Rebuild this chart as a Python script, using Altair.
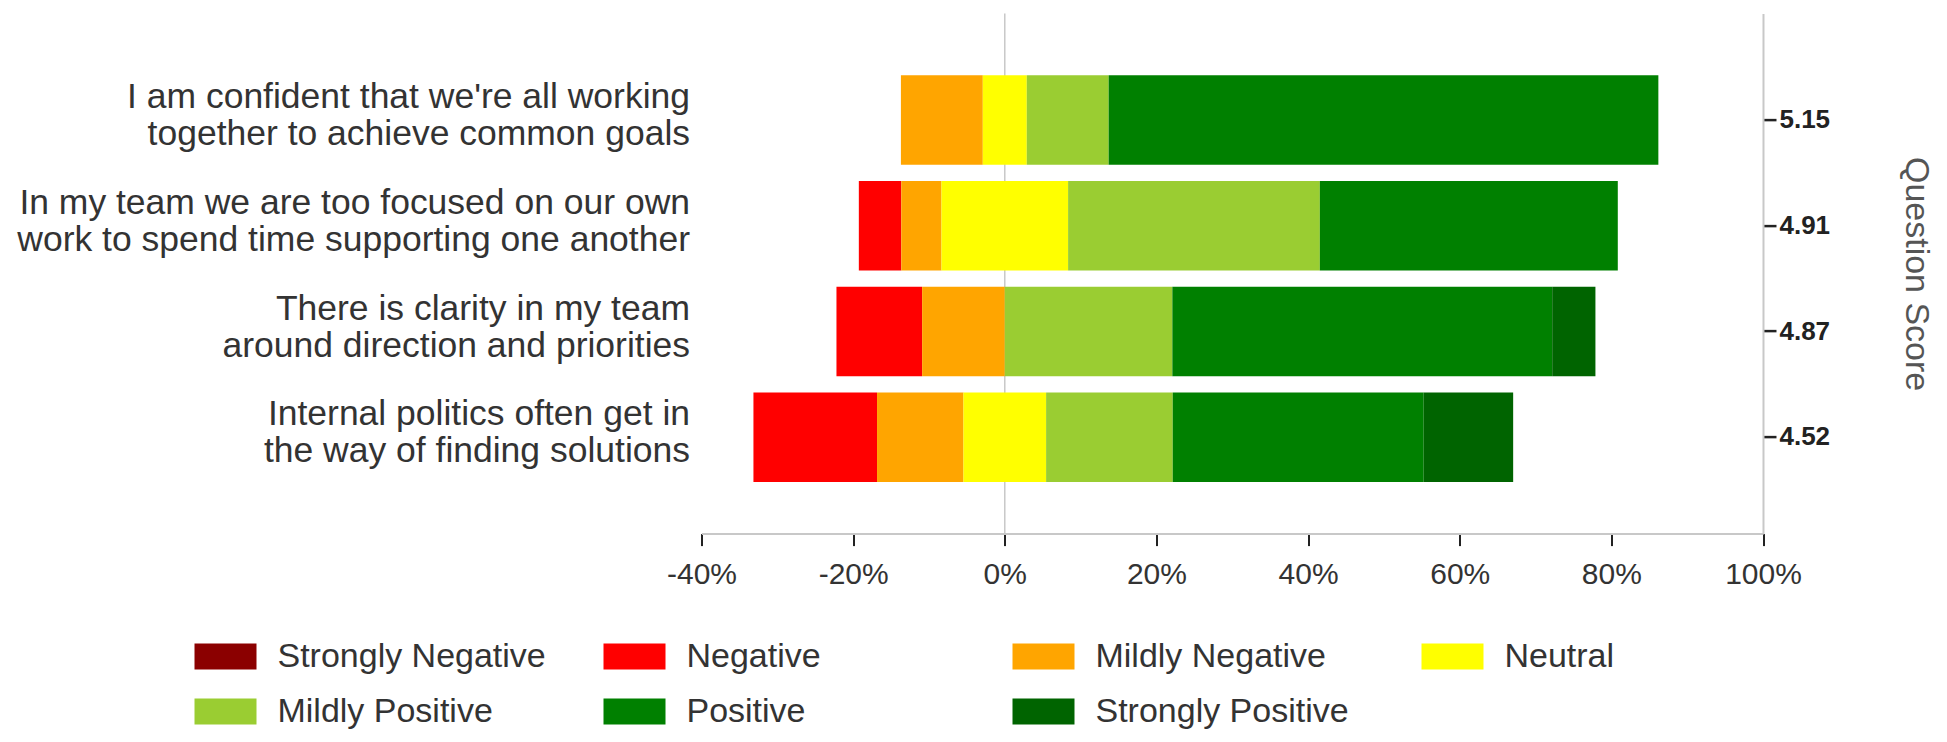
import altair as alt
import pandas as pd

# ---- data ----
questions = [
    ["I am confident that we're all working", "together to achieve common goals"],
    ["In my team we are too focused on our own", "work to spend time supporting one another"],
    ["There is clarity in my team", "around direction and priorities"],
    ["Internal politics often get in", "the way of finding solutions"],
]
scores = ["5.15", "4.91", "4.87", "4.52"]

categories = ["Strongly Negative", "Negative", "Mildly Negative", "Neutral",
              "Mildly Positive", "Positive", "Strongly Positive"]
colors = ["#8B0000", "#FF0000", "#FFA500", "#FFFF00",
          "#9ACD32", "#008000", "#006400"]

strongly_negative = [0.0, 0.0, 0.0, 0.0]
negative = [0.0, 5.6, 11.3, 16.3]
mildly_negative = [10.8, 5.3, 10.9, 11.4]
neutral = [5.8, 16.7, 0.0, 10.9]
mildly_positive = [10.8, 33.2, 22.1, 16.7]
positive = [72.5, 39.3, 50.1, 33.1]
strongly_positive = [0.0, 0.0, 5.7, 11.8]

x_ticks = [-40, -20, 0, 20, 40, 60, 80, 100]

# ---- build the diverging table ----
series = [strongly_negative, negative, mildly_negative, neutral,
          mildly_positive, positive, strongly_positive]
keys = [s + "|" + "|".join(q) for s, q in zip(scores, questions)]
rows = []
for i, key in enumerate(keys):
    start = -(strongly_negative[i] + negative[i] + mildly_negative[i] + neutral[i] / 2)
    for cat, vals in zip(categories, series):
        v = vals[i]
        end = start + v
        if v > 0:
            rows.append({"key": key, "category": cat, "start": start, "end": end, "value": v})
        start = end
df = pd.DataFrame(rows)

FONT = "Liberation Sans"

y_scale = alt.Scale(paddingInner=0.154, paddingOuter=0.535, align=0.545)

zero_line = alt.Chart(pd.DataFrame({"z": [0]})).mark_rule(
    color="#c8c8c8", strokeWidth=1.5
).encode(x=alt.datum(0))

bars = alt.Chart(df).mark_bar().encode(
    x=alt.X(
        "start:Q",
        scale=alt.Scale(domain=[-40, 100], nice=False, zero=False),
        axis=alt.Axis(
            values=x_ticks, labelExpr="datum.value + '%'", title=None, grid=False,
            domainColor="#c8c8c8", domainWidth=2, tickColor="#222", tickWidth=2,
            tickSize=12, labelFontSize=30, labelColor="#333", labelPadding=14,
            labelFont=FONT, labelFlush=False,
        ),
    ),
    x2="end:Q",
    y=alt.Y(
        "key:N", sort=keys, scale=y_scale,
        axis=alt.Axis(
            orient="left", title=None, domain=False, ticks=False,
            labelExpr="slice(split(datum.value, '|'), 1)",
            labelFontSize=35.5, labelLineHeight=37, labelPadding=12, labelLimit=0,
            labelOffset=-23, labelColor="#333", labelFont=FONT,
        ),
    ),
    color=alt.Color(
        "category:N",
        scale=alt.Scale(domain=categories, range=colors),
        legend=alt.Legend(
            orient="none", direction="horizontal", legendX=-507, legendY=612,
            columns=4, title=None,
            symbolType="M-1,-0.42H1V0.42H-1Z", symbolSize=3844, symbolStrokeWidth=0,
            symbolOpacity=1, labelFontSize=34, labelFont=FONT, labelColor="#333",
            labelOffset=21, columnPadding=57, rowPadding=7, gridAlign="all",
            labelLimit=0,
        ),
    ),
)

right_axis = alt.Chart(df).mark_point(opacity=0).encode(
    y=alt.Y(
        "key:N", sort=keys, scale=y_scale,
        axis=alt.Axis(
            orient="right", title="Question Score", titleAngle=90,
            labelExpr="split(datum.value, '|')[0]",
            labelFontWeight="bold", labelFontSize=26, labelColor="#222",
            labelPadding=3, labelFont=FONT,
            tickSize=13, tickWidth=2.5, tickColor="#222",
            domainColor="#c8c8c8", domainWidth=2,
            titleFontSize=34, titleFontWeight="normal", titleColor="#555",
            titlePadding=69, titleFont=FONT, grid=False,
        ),
    )
)

chart = alt.layer(zero_line, bars, right_axis).resolve_axis(
    y="independent"
).properties(
    width=1061.5,
    height=520,
    padding={"left": 693.5, "top": 5.6, "right": 176, "bottom": 200},
    autosize=alt.AutoSizeParams(type="none"),
).configure(font=FONT).configure_view(strokeWidth=0, stroke="transparent")

chart.save("out.html", embed_options={"renderer": "svg", "actions": False})
